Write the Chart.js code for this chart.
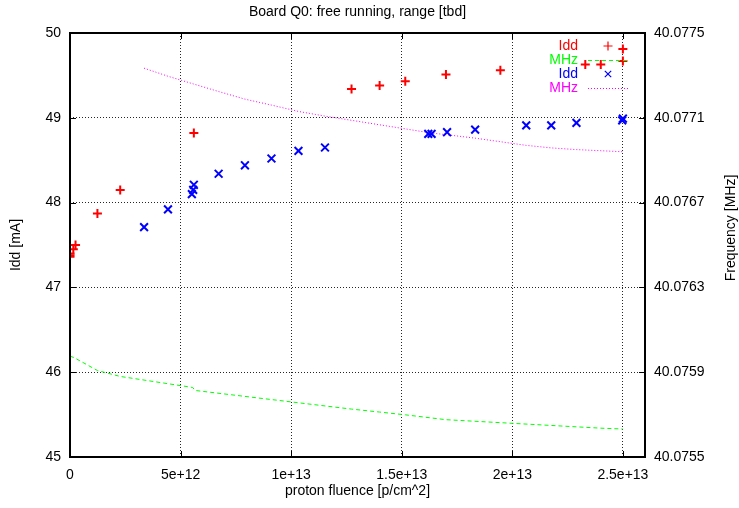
<!DOCTYPE html>
<html><head><meta charset="utf-8">
<script src="https://cdn.jsdelivr.net/npm/chart.js@4/dist/chart.umd.min.js"></script>
<style>html,body{margin:0;padding:0;background:#fff}</style>
</head><body>
<canvas id="c" width="739" height="508"></canvas>
<script>
// ---- data ----
const chartTitle = 'Board Q0: free running, range [tbd]';
const xTitle = 'proton fluence [p/cm^2]';
const yTitle = 'Idd [mA]';
const y2Title = 'Frequency [MHz]';

const xTickValues = [0, 5e12, 1e13, 1.5e13, 2e13, 2.5e13];
const xTickLabels = ['0', '5e+12', '1e+13', '1.5e+13', '2e+13', '2.5e+13'];
const yTickValues = [45, 46, 47, 48, 49, 50];
const yTickLabels = ['45', '46', '47', '48', '49', '50'];
const y2TickValues = [40.0755, 40.0759, 40.0763, 40.0767, 40.0771, 40.0775];
const y2TickLabels = ['40.0755', '40.0759', '40.0763', '40.0767', '40.0771', '40.0775'];

// series 1: Idd (red +)
const idd1X = [0, 0, 0, 0.15e12, 0.25e12, 1.24e12, 2.27e12, 5.6e12, 12.73e12, 14.0e12, 15.16e12, 17.0e12, 19.46e12, 23.3e12, 24.0e12, 25.0e12, 25.0e12];
const idd1Y = [47.36, 47.38, 47.40, 47.45, 47.50, 47.87, 48.15, 48.82, 49.34, 49.38, 49.43, 49.51, 49.56, 49.63, 49.63, 49.67, 49.81];
// series 2: MHz (green dashed)
const freq1X = [0, 0.2e12, 1.24e12, 2.27e12, 5.55e12, 5.65e12, 12.73e12, 14.0e12, 15.16e12, 17.0e12, 19.46e12, 23.3e12, 24.0e12, 25.0e12];
const freq1Y = [40.075976, 40.075968, 40.075908, 40.07588, 40.075828, 40.075814, 40.075726, 40.075712, 40.075699, 40.075676, 40.075662, 40.07564, 40.075636, 40.075632];
// series 3: Idd (blue x)
const idd2X = [3.35e12, 4.43e12, 5.51e12, 5.57e12, 5.6e12, 6.72e12, 7.91e12, 9.11e12, 10.33e12, 11.53e12, 16.2e12, 16.35e12, 17.05e12, 18.32e12, 20.63e12, 21.76e12, 22.9e12, 24.97e12, 25.0e12];
const idd2Y = [47.71, 47.92, 48.10, 48.15, 48.21, 48.34, 48.44, 48.52, 48.61, 48.65, 48.81, 48.81, 48.83, 48.86, 48.91, 48.91, 48.94, 48.97, 48.99];
// series 4: MHz (magenta dotted)
const freq2X = [3.35e12, 4.43e12, 5.57e12, 6.72e12, 7.91e12, 9.11e12, 10.33e12, 11.53e12, 16.35e12, 17.05e12, 18.32e12, 20.63e12, 21.76e12, 22.9e12, 24.97e12];
const freq2Y = [40.077334, 40.077296, 40.07726, 40.077224, 40.077188, 40.07716, 40.07713, 40.077108, 40.077028, 40.07702, 40.077004, 40.07697, 40.076958, 40.07695, 40.07694];

const seriesLabels = ['Idd', 'MHz', 'Idd', 'MHz'];

// ---- chart ----
const FONT = {family: "'Liberation Sans', Arial, Helvetica, sans-serif", size: 14};
const pts = (xs, ys) => xs.map((x, i) => ({x: x, y: ys[i]}));

const frame = {
  id: 'frame',
  afterDraw(chart) {
    const {ctx, chartArea: a, scales} = chart;
    ctx.save();
    // title
    ctx.fillStyle = '#000';
    ctx.font = `${FONT.size}px ${FONT.family}`;
    ctx.textAlign = 'center';
    ctx.textBaseline = 'middle';
    ctx.fillText(chartTitle, (a.left + a.right) / 2, 12);
    // right axis title (reads bottom to top)
    ctx.save();
    ctx.translate(731, (a.top + a.bottom) / 2 - 17);
    ctx.rotate(-Math.PI / 2);
    ctx.fillText(y2Title, 0, 0);
    ctx.restore();
    // inward tick marks
    ctx.strokeStyle = '#000';
    ctx.lineWidth = 1;
    ctx.beginPath();
    const tl = 6;
    xTickValues.forEach(v => {
      const px = Math.round(scales.x.getPixelForValue(v)) + 0.5;
      ctx.moveTo(px, a.bottom); ctx.lineTo(px, a.bottom - tl);
      ctx.moveTo(px, a.top); ctx.lineTo(px, a.top + tl);
    });
    yTickValues.forEach(v => {
      const py = Math.round(scales.y.getPixelForValue(v)) + 0.5;
      ctx.moveTo(a.left, py); ctx.lineTo(a.left + tl, py);
    });
    y2TickValues.forEach(v => {
      const py = Math.round(scales.y2.getPixelForValue(v)) + 0.5;
      ctx.moveTo(a.right, py); ctx.lineTo(a.right - tl, py);
    });
    ctx.stroke();
    // frame
    ctx.lineWidth = 2;
    ctx.strokeRect(a.left, a.top, a.right - a.left, a.bottom - a.top);
    // legend (gnuplot style: text, then sample)
    chart.data.datasets.forEach((ds, i) => {
      const yy = 46 + i * 14;
      ctx.fillStyle = ds.borderColor;
      ctx.textAlign = 'right';
      ctx.textBaseline = 'middle';
      ctx.fillText(ds.label, 578, yy);
      if (ds.showLine) {
        ctx.save();
        ctx.strokeStyle = ds.borderColor;
        ctx.lineWidth = ds.borderWidth;
        ctx.setLineDash(ds.borderDash || []);
        ctx.beginPath();
        ctx.moveTo(588, yy + 0.5); ctx.lineTo(630, yy + 0.5);
        ctx.stroke();
        ctx.restore();
      } else {
        ctx.strokeStyle = ds.borderColor;
        ctx.lineWidth = 1.2;
        Chart.helpers.drawPoint(ctx, {pointStyle: ds.pointStyle, radius: 4.5, rotation: 0, borderWidth: 1.2}, 608, yy);
      }
    });
    ctx.restore();
  }
};

new Chart(document.getElementById('c'), {
  type: 'scatter',
  data: {
    datasets: [
      {label: seriesLabels[0], data: pts(idd1X, idd1Y), yAxisID: 'y', showLine: false,
       pointStyle: 'cross', pointRadius: 4.5, pointBorderWidth: 2, borderColor: '#ff0000', backgroundColor: '#ff0000'},
      {label: seriesLabels[1], data: pts(freq1X, freq1Y), yAxisID: 'y2', showLine: true,
       pointRadius: 0, borderWidth: 1, borderDash: [4, 3], borderColor: '#00ff00', backgroundColor: '#00ff00'},
      {label: seriesLabels[2], data: pts(idd2X, idd2Y), yAxisID: 'y', showLine: false,
       pointStyle: 'crossRot', pointRadius: 5.5, pointBorderWidth: 2, borderColor: '#0000ff', backgroundColor: '#0000ff'},
      {label: seriesLabels[3], data: pts(freq2X, freq2Y), yAxisID: 'y2', showLine: true,
       pointRadius: 0, borderWidth: 1, borderDash: [1, 2], borderColor: '#ff00ff', backgroundColor: '#ff00ff'}
    ]
  },
  options: {
    responsive: false,
    animation: false,
    devicePixelRatio: 1,
    layout: {padding: {top: 33, left: 0, right: 0, bottom: 0}},
    plugins: {legend: {display: false}, title: {display: false}, tooltip: {enabled: false}},
    scales: {
      x: {
        type: 'linear', position: 'bottom', min: 0, max: 2.6e13,
        afterBuildTicks: s => { s.ticks = xTickValues.map(v => ({value: v})); },
        afterFit: s => { s.height = 51; },
        ticks: {callback: (v, i) => xTickLabels[i], color: '#000', font: FONT, padding: 10, maxRotation: 0, autoSkip: false},
        grid: {color: 'rgba(0,0,0,0.85)', drawTicks: false, lineWidth: 1},
        border: {display: false, dash: [1, 2]},
        title: {display: true, text: xTitle, color: '#000', font: FONT, padding: {top: 0, bottom: 8}}
      },
      y: {
        type: 'linear', position: 'left', min: 45, max: 50,
        afterBuildTicks: s => { s.ticks = yTickValues.map(v => ({value: v})); },
        afterFit: s => { s.width = 70; },
        ticks: {callback: (v, i) => yTickLabels[i], color: '#000', font: FONT, padding: 9, autoSkip: false},
        grid: {color: 'rgba(0,0,0,0.85)', drawTicks: false, lineWidth: 1},
        border: {display: false, dash: [1, 2]},
        title: {display: true, text: yTitle, color: '#000', font: FONT, padding: {top: 8, bottom: 0}}
      },
      y2: {
        type: 'linear', position: 'right', min: 40.0755, max: 40.0775,
        afterBuildTicks: s => { s.ticks = y2TickValues.map(v => ({value: v})); },
        afterFit: s => { s.width = 94; },
        ticks: {callback: (v, i) => y2TickLabels[i], color: '#000', font: FONT, padding: 9, autoSkip: false},
        grid: {display: false, drawTicks: false},
        border: {display: false}
      }
    }
  },
  plugins: [frame]
});
</script>
</body></html>
